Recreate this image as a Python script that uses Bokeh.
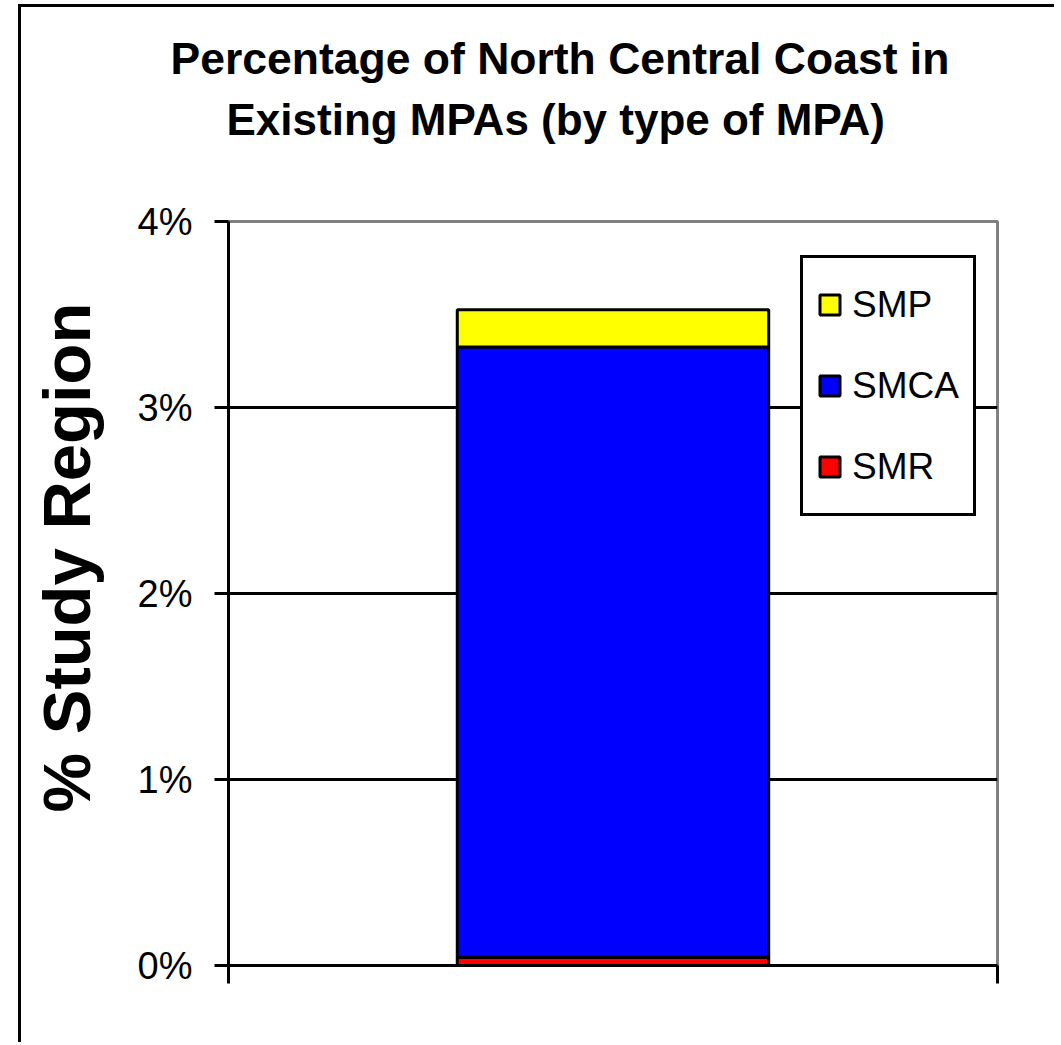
from bokeh.plotting import figure
from bokeh.models import (ColumnDataSource, Range1d, LinearAxis, FixedTicker,
                          PrintfTickFormatter, CustomJSTickFormatter, Legend,
                          LegendItem, Title)
from bokeh.embed import file_html
from bokeh.resources import INLINE

# ---- data ----
title_lines = ["Percentage of North Central Coast in", "Existing MPAs (by type of MPA)"]
y_axis_title = "% Study Region"
categories = ["Existing MPAs"]
series_names = ["SMR", "SMCA", "SMP"]
smr_values = [0.045]
smca_values = [3.28]
smp_values = [0.20]
series_colors = ["#FF0000", "#0000FF", "#FFFF00"]
y_ticks = [0, 1, 2, 3, 4]
y_tick_format = "%d%%"

FONT = "Liberation Sans"

src = ColumnDataSource(dict(category=categories, SMR=smr_values,
                            SMCA=smca_values, SMP=smp_values))

p = figure(width=1036, height=1038, x_range=categories, y_range=Range1d(0, 4),
           title=None, output_backend="svg", toolbar_location=None,
           x_axis_location=None,
           min_border_left=207, min_border_right=60, min_border_top=214,
           min_border_bottom=80, background_fill_color="white",
           border_fill_color="white", outline_line_color="#808080",
           outline_line_width=3)
p.styles = {"border-left": "3px solid black", "border-top": "3px solid black",
            "margin-left": "18px", "margin-top": "4px"}

p.xgrid.visible = False
p.ygrid.ticker = FixedTicker(ticks=y_ticks[1:-1])
p.ygrid.grid_line_color = "black"
p.ygrid.grid_line_width = 3

yax = p.yaxis[0]
yax.ticker = FixedTicker(ticks=y_ticks)
yax.formatter = PrintfTickFormatter(format=y_tick_format)
yax.major_tick_out = 14
yax.major_tick_in = 0
yax.major_tick_line_width = 3
yax.major_tick_line_color = "black"
yax.minor_tick_line_color = None
yax.axis_line_width = 3
yax.axis_line_color = "black"
yax.major_label_standoff = 22
yax.major_label_text_font = FONT
yax.major_label_text_font_size = "38px"
yax.major_label_text_color = "black"

# category-edge ticks, as in the original (ticks between categories)
xax = LinearAxis(ticker=FixedTicker(ticks=[0, 1]),
                 formatter=CustomJSTickFormatter(code="return ''"),
                 major_tick_out=18, major_tick_in=0, major_tick_line_width=3,
                 major_tick_line_color="black", minor_tick_line_color=None,
                 axis_line_width=3, axis_line_color="black")
p.add_layout(xax, "below")

renderers = p.vbar_stack(series_names, x="category", width=0.405, source=src,
                         fill_color=series_colors, line_color="black", line_width=3)

items = [LegendItem(label=n, renderers=[r]) for n, r in zip(series_names, renderers)][::-1]
legend = Legend(items=items, location=(572, 449), orientation="vertical",
                padding=14, spacing=16, margin=0, label_height=65,
                glyph_width=25, glyph_height=25, label_standoff=10,
                label_text_font=FONT, label_text_font_size="37px",
                label_text_color="black",
                border_line_color="black", border_line_width=3, border_line_alpha=1,
                background_fill_color="white", background_fill_alpha=1)
p.add_layout(legend, "center")

# chart title (two lines), with a gap above the plot area
p.add_layout(Title(text=" ", text_font_size="10px", standoff=60), "above")
p.add_layout(Title(text=title_lines[1], align="left", offset=-2, standoff=10,
                   vertical_align="bottom", text_font=FONT, text_font_style="bold",
                   text_font_size="44px", text_color="black"), "above")
p.add_layout(Title(text=title_lines[0], align="left", offset=-58, standoff=10,
                   vertical_align="bottom", text_font=FONT, text_font_style="bold",
                   text_font_size="44.5px", text_color="black"), "above")

# y-axis title
p.add_layout(Title(text=" ", text_font_size="10px", standoff=14), "left")
p.add_layout(Title(text=y_axis_title, align="left", offset=153, standoff=8,
                   vertical_align="bottom", text_font=FONT, text_font_style="bold",
                   text_font_size="67px", text_color="black"), "left")

open("out.html", "w").write(file_html(p, INLINE))
